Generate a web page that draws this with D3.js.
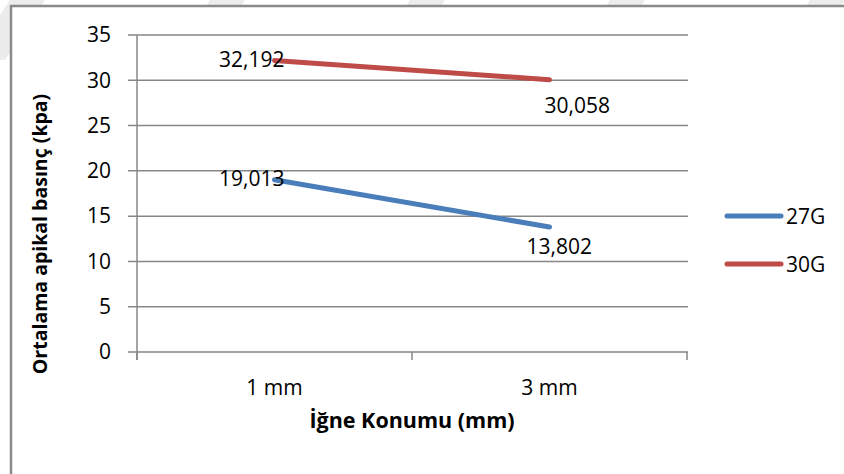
<!DOCTYPE html>
<html>
<head>
<meta charset="utf-8">
<script src="https://cdn.jsdelivr.net/npm/d3@7"></script>
<style>
  html, body { margin: 0; padding: 0; background: #fff; }
  svg { display: block; }
  text { font-family: "Open Sans", "Noto Sans", sans-serif; fill: #000; }
</style>
</head>
<body>
<svg id="chart" width="844" height="474"></svg>
<script>
// Needle position categories and mean apical pressure per gauge
const categories = ["1 mm", "3 mm"];
const series27G = [19.013, 13.802];
const series30G = [32.192, 30.058];
const seriesNames = ["27G", "30G"];
const yTicks = [0, 5, 10, 15, 20, 25, 30, 35];
const xTitle = "İğne Konumu (mm)";
const yTitle = "Ortalama apikal basınç (kpa)";

const colors = { "27G": "#4A7EBB", "30G": "#BE4B48" };
const seriesData = [
  { name: seriesNames[0], values: series27G },
  { name: seriesNames[1], values: series30G }
];

const svg = d3.select("#chart");
const W = 844, H = 474;

// faint diagonal streaks on the page behind the chart frame
const streaks = svg.append("g").attr("fill", "#ececec");
[-30, 170, 370, 570, 770].forEach(x0 => {
  streaks.append("path")
    .attr("d", `M${x0 + 40},0 L${x0 + 75},0 L${x0 + 35},60 L${x0},60 Z`);
});

// chart frame
svg.append("rect")
  .attr("x", 11).attr("y", 6)
  .attr("width", W + 20).attr("height", H + 20)
  .attr("fill", "#fff")
  .attr("stroke", "#8a8a8a").attr("stroke-width", 2.5);

const plot = { left: 137, right: 687, top: 35, bottom: 352 };

const x = d3.scaleBand().domain(categories).range([plot.left, plot.right]);
const y = d3.scaleLinear().domain([0, 35]).range([plot.bottom, plot.top]);

const gridColor = "#878787";

// horizontal gridlines with left tick stubs
svg.append("g")
  .selectAll("line")
  .data(yTicks)
  .join("line")
  .attr("x1", plot.left - 9).attr("x2", plot.right + 1)
  .attr("y1", d => y(d)).attr("y2", d => y(d))
  .attr("stroke", gridColor).attr("stroke-width", 1.5);

// vertical axis line
svg.append("line")
  .attr("x1", plot.left).attr("x2", plot.left)
  .attr("y1", plot.top).attr("y2", plot.bottom + 8)
  .attr("stroke", gridColor).attr("stroke-width", 1.5);

// category boundary ticks below the x axis
const boundaries = [plot.left, ...categories.map(c => x(c) + x.bandwidth())];
svg.append("g")
  .selectAll("line")
  .data(boundaries)
  .join("line")
  .attr("x1", d => d).attr("x2", d => d)
  .attr("y1", plot.bottom).attr("y2", plot.bottom + 8)
  .attr("stroke", gridColor).attr("stroke-width", 1.5);

// y tick labels
svg.append("g")
  .selectAll("text")
  .data(yTicks)
  .join("text")
  .attr("x", plot.left - 26)
  .attr("y", d => y(d))
  .attr("dy", "0.35em")
  .attr("text-anchor", "end")
  .attr("font-size", 21)
  .text(d => d);

// x tick labels
svg.append("g")
  .selectAll("text")
  .data(categories)
  .join("text")
  .attr("x", d => x(d) + x.bandwidth() / 2)
  .attr("y", 395)
  .attr("text-anchor", "middle")
  .attr("font-size", 21)
  .text(d => d);

// axis titles
svg.append("text")
  .attr("x", (plot.left + plot.right) / 2)
  .attr("y", 428)
  .attr("text-anchor", "middle")
  .attr("font-size", 21.5)
  .attr("font-weight", "bold")
  .text(xTitle);

svg.append("text")
  .attr("transform", "translate(47, 234) rotate(-90)")
  .attr("text-anchor", "middle")
  .attr("font-size", 19.5)
  .attr("font-weight", "bold")
  .text(yTitle);

// series lines
const line = d3.line()
  .x((d, i) => x(categories[i]) + x.bandwidth() / 2)
  .y(d => y(d));

svg.append("g")
  .selectAll("path")
  .data(seriesData)
  .join("path")
  .attr("d", d => line(d.values))
  .attr("fill", "none")
  .attr("stroke", d => colors[d.name])
  .attr("stroke-width", 5)
  .attr("stroke-linecap", "round");

// data labels: left of the first point, below the second point
const fmt = v => d3.format(".3f")(v).replace(".", ",");
const labelShift = { "27G": [-23, 21], "30G": [-5, 27] };
seriesData.forEach(s => {
  s.values.forEach((v, i) => {
    const px = x(categories[i]) + x.bandwidth() / 2;
    const py = y(v);
    const t = svg.append("text").attr("font-size", 21).text(fmt(v));
    if (i === 0) {
      t.attr("x", px + 10).attr("y", py).attr("dy", "0.3em").attr("text-anchor", "end");
    } else {
      t.attr("x", px + labelShift[s.name][0]).attr("y", py + labelShift[s.name][1])
        .attr("dy", "0.3em").attr("text-anchor", "start");
    }
  });
});

// legend
const legend = svg.append("g")
  .selectAll("g")
  .data(seriesData)
  .join("g")
  .attr("transform", (d, i) => `translate(727, ${216 + i * 48})`);

legend.append("line")
  .attr("x1", 0).attr("x2", 54)
  .attr("stroke", d => colors[d.name])
  .attr("stroke-width", 5)
  .attr("stroke-linecap", "round");

legend.append("text")
  .attr("x", 59)
  .attr("dy", "0.36em")
  .attr("font-size", 21)
  .text(d => d.name);
</script>
</body>
</html>
